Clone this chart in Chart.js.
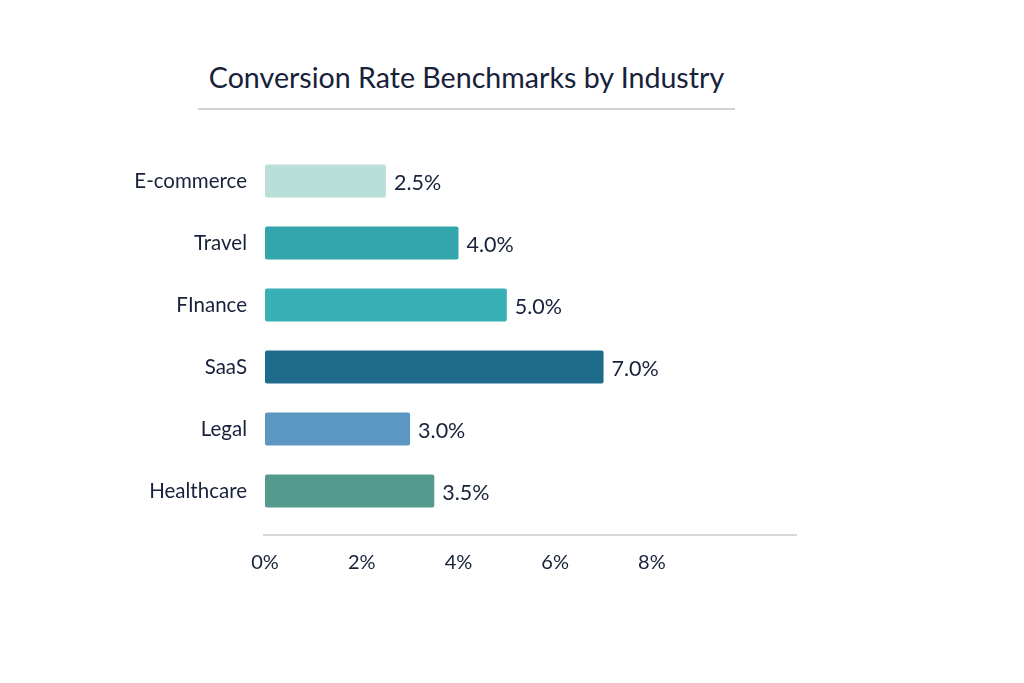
<!DOCTYPE html>
<html>
<head>
<meta charset="utf-8">
<script src="https://cdn.jsdelivr.net/npm/chart.js@4.4.0/dist/chart.umd.min.js"></script>
<style>
  html, body { margin: 0; padding: 0; background: #ffffff; }
  #wrap { position: relative; width: 1024px; height: 683px; }
  #title {
    position: absolute; left: 198px; top: 57px; width: 537px;
    text-align: center; font-family: Lato, sans-serif; font-size: 28.6px;
    color: #17213a; padding-bottom: 11px; border-bottom: 2px solid #cfd2d6;
    line-height: 40px;
  }
  canvas { position: absolute; left: 0; top: 0; }
</style>
</head>
<body>
<div id="wrap">
  <div id="title">Conversion Rate Benchmarks by Industry</div>
  <canvas id="benchChart" width="1024" height="683"></canvas>
</div>
<script>
const industries = ['E-commerce', 'Travel', 'FInance', 'SaaS', 'Legal', 'Healthcare'];
const conversionRates = [2.5, 4.0, 5.0, 7.0, 3.0, 3.5];
const barColors = ['#badfd9', '#33a6ad', '#38b0b5', '#1f6b8b', '#5b97c2', '#53998e'];
const xTicks = [0, 2, 4, 6, 8];

const textColor = '#17213a';

// value labels at the end of each bar
const valueLabels = {
    id: 'valueLabels',
    afterDatasetsDraw(chart) {
        const ctx = chart.ctx;
        const meta = chart.getDatasetMeta(0);
        ctx.save();
        ctx.font = '21.5px Lato, sans-serif';
        ctx.fillStyle = textColor;
        ctx.textAlign = 'left';
        ctx.textBaseline = 'middle';
        meta.data.forEach((bar, i) => {
            ctx.fillText(conversionRates[i].toFixed(1) + '%', bar.x + 8, bar.y + 2);
        });
        ctx.restore();
    }
};

// thin axis line below the bars
const axisLine = {
    id: 'axisLine',
    afterDraw(chart) {
        const { ctx, chartArea } = chart;
        ctx.save();
        ctx.strokeStyle = '#c9ccd1';
        ctx.lineWidth = 1.5;
        ctx.beginPath();
        ctx.moveTo(chartArea.left - 2, chartArea.bottom + 13);
        ctx.lineTo(chartArea.right, chartArea.bottom + 13);
        ctx.stroke();
        ctx.restore();
    }
};

new Chart(document.getElementById('benchChart'), {
    type: 'bar',
    data: {
        labels: industries,
        datasets: [{
            data: conversionRates,
            backgroundColor: barColors,
            borderRadius: 2,
            borderSkipped: false,
            barPercentage: 0.53,
            categoryPercentage: 1
        }]
    },
    options: {
        indexAxis: 'y',
        responsive: false,
        animation: false,
        layout: {
            padding: { left: 0, right: 227, top: 150, bottom: 101 }
        },
        plugins: {
            legend: { display: false },
            tooltip: { enabled: false }
        },
        scales: {
            x: {
                min: 0,
                max: 11,
                afterBuildTicks: (scale) => {
                    scale.ticks = xTicks.map(v => ({ value: v }));
                },
                afterFit: (scale) => { scale.height = 60; },
                grid: { display: false, drawTicks: false },
                border: { display: false },
                ticks: {
                    padding: 29,
                    color: textColor,
                    font: { family: 'Lato, sans-serif', size: 20 },
                    callback: (value) => value + '%'
                }
            },
            y: {
                afterFit: (scale) => { scale.width = 265; },
                grid: { display: false, drawTicks: false },
                border: { display: false },
                ticks: {
                    padding: 18,
                    color: textColor,
                    font: { family: 'Lato, sans-serif', size: 20.5 }
                }
            }
        }
    },
    plugins: [valueLabels, axisLine]
});
</script>
</body>
</html>
